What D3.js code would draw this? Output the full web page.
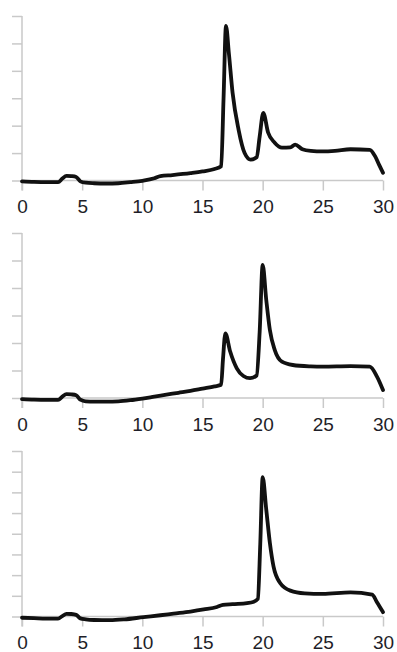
<!DOCTYPE html>
<html>
<head>
<meta charset="utf-8">
<script src="https://cdn.jsdelivr.net/npm/d3@7"></script>
<style>
  html, body { margin: 0; padding: 0; background: #fff; }
  svg { display: block; }
</style>
</head>
<body>
<svg id="chart" width="397" height="652"></svg>
<script>
// ---- data ----
const xTicks = [0, 5, 10, 15, 20, 25, 30];

const timeA = [0,1,2,3,3.35,3.7,4.1,4.5,4.85,5.3,6,7,8,9,10,11,11.5,12.5,14,15,16,16.55,16.75,16.95,17.2,17.5,18.0,18.5,19.0,19.5,19.75,20.05,20.45,21.0,21.6,22.3,22.7,23.3,24,25,26,27.3,28.9,29.35,29.7,30];
const signalA = [-0.03,-0.05,-0.06,-0.06,0.07,0.17,0.16,0.13,-0.03,-0.08,-0.1,-0.11,-0.1,-0.06,-0.01,0.08,0.16,0.2,0.27,0.33,0.42,0.52,3.0,5.64,4.6,3.2,1.85,1.0,0.76,0.85,1.6,2.47,1.75,1.38,1.2,1.21,1.31,1.14,1.08,1.06,1.08,1.14,1.12,0.88,0.55,0.28];

const timeB = [0,1,2,3,3.35,3.7,4.1,4.5,4.85,5.3,6,7,8,9,10,11,12,13,14,15,16,16.55,16.7,16.9,17.3,17.85,18.4,18.95,19.5,19.75,20.0,20.3,20.6,21.0,21.6,22.5,24,25,27.3,28.9,29.5,30];
const signalB = [-0.04,-0.06,-0.07,-0.07,0.05,0.14,0.13,0.1,-0.06,-0.12,-0.13,-0.13,-0.12,-0.08,-0.02,0.05,0.12,0.19,0.26,0.34,0.42,0.48,1.4,2.35,1.69,1.08,0.8,0.72,0.82,2.4,4.84,3.56,2.47,1.75,1.32,1.2,1.15,1.14,1.16,1.14,0.78,0.29];

const timeC = [0,1,2,3,3.35,3.7,4.1,4.5,4.85,5.3,6,7.3,8.5,10.1,11.5,12.6,14,15.1,16.2,16.7,17.5,18.7,19.2,19.6,19.8,20.0,20.3,20.6,20.9,21.45,22.3,23.5,25,27.3,29.1,29.5,30];
const signalC = [-0.06,-0.08,-0.1,-0.1,0.02,0.13,0.12,0.08,-0.09,-0.14,-0.17,-0.18,-0.14,-0.03,0.06,0.14,0.24,0.34,0.46,0.56,0.6,0.65,0.7,0.85,3.5,6.73,5.16,3.55,2.42,1.62,1.25,1.12,1.09,1.17,1.06,0.69,0.21];

const yMaxA = 6, yMaxB = 6, yMaxC = 8;

// ---- layout ----
const svg = d3.select("#chart");
const x = d3.scaleLinear().domain([0, 30]).range([22, 383]);

const panels = [
  { t: timeA, v: signalA, yMax: yMaxA, top: 16, bottom: 180.5 },
  { t: timeB, v: signalB, yMax: yMaxB, top: 233, bottom: 398 },
  { t: timeC, v: signalC, yMax: yMaxC, top: 451, bottom: 616.5 }
];

const axisColor = "#c9c9c9";

panels.forEach(p => {
  const y = d3.scaleLinear().domain([0, p.yMax]).range([p.bottom, p.top]);
  const g = svg.append("g");

  // y axis (ticks only, no labels)
  const yAxis = d3.axisLeft(y).tickValues(d3.range(0, p.yMax + 1)).tickSize(10).tickFormat("");
  const ya = g.append("g").attr("transform", `translate(${x(0)},0)`).call(yAxis);
  ya.select(".domain").attr("stroke", axisColor).attr("stroke-width", 1.5).attr("d", `M0,${p.top}V${p.bottom + 10}`);
  ya.selectAll(".tick line").attr("stroke", axisColor).attr("stroke-width", 1.5);

  // x axis
  const xAxis = d3.axisBottom(x).tickValues(xTicks).tickSize(10).tickPadding(10).tickFormat(d3.format("d"));
  const xa = g.append("g").attr("transform", `translate(0,${p.bottom})`).call(xAxis);
  xa.select(".domain").attr("stroke", axisColor).attr("stroke-width", 1.5).attr("d", `M${x(0)},0H${x(30)}`);
  xa.selectAll(".tick line").attr("stroke", axisColor).attr("stroke-width", 1.5);
  xa.selectAll(".tick text")
    .attr("fill", "#1e1e28")
    .attr("font-family", "Liberation Sans, Arial, sans-serif")
    .attr("font-size", 19)
    .attr("dy", "0.71em")
    .attr("y", 19.5);

  // trace
  const line = d3.line()
    .x((d, i) => x(p.t[i]))
    .y(d => y(d))
    .curve(d3.curveMonotoneX);
  g.append("path")
    .datum(p.v)
    .attr("fill", "none")
    .attr("stroke", "#111")
    .attr("stroke-width", 3.8)
    .attr("stroke-linejoin", "round")
    .attr("stroke-linecap", "round")
    .attr("d", line);
});
</script>
</body>
</html>
